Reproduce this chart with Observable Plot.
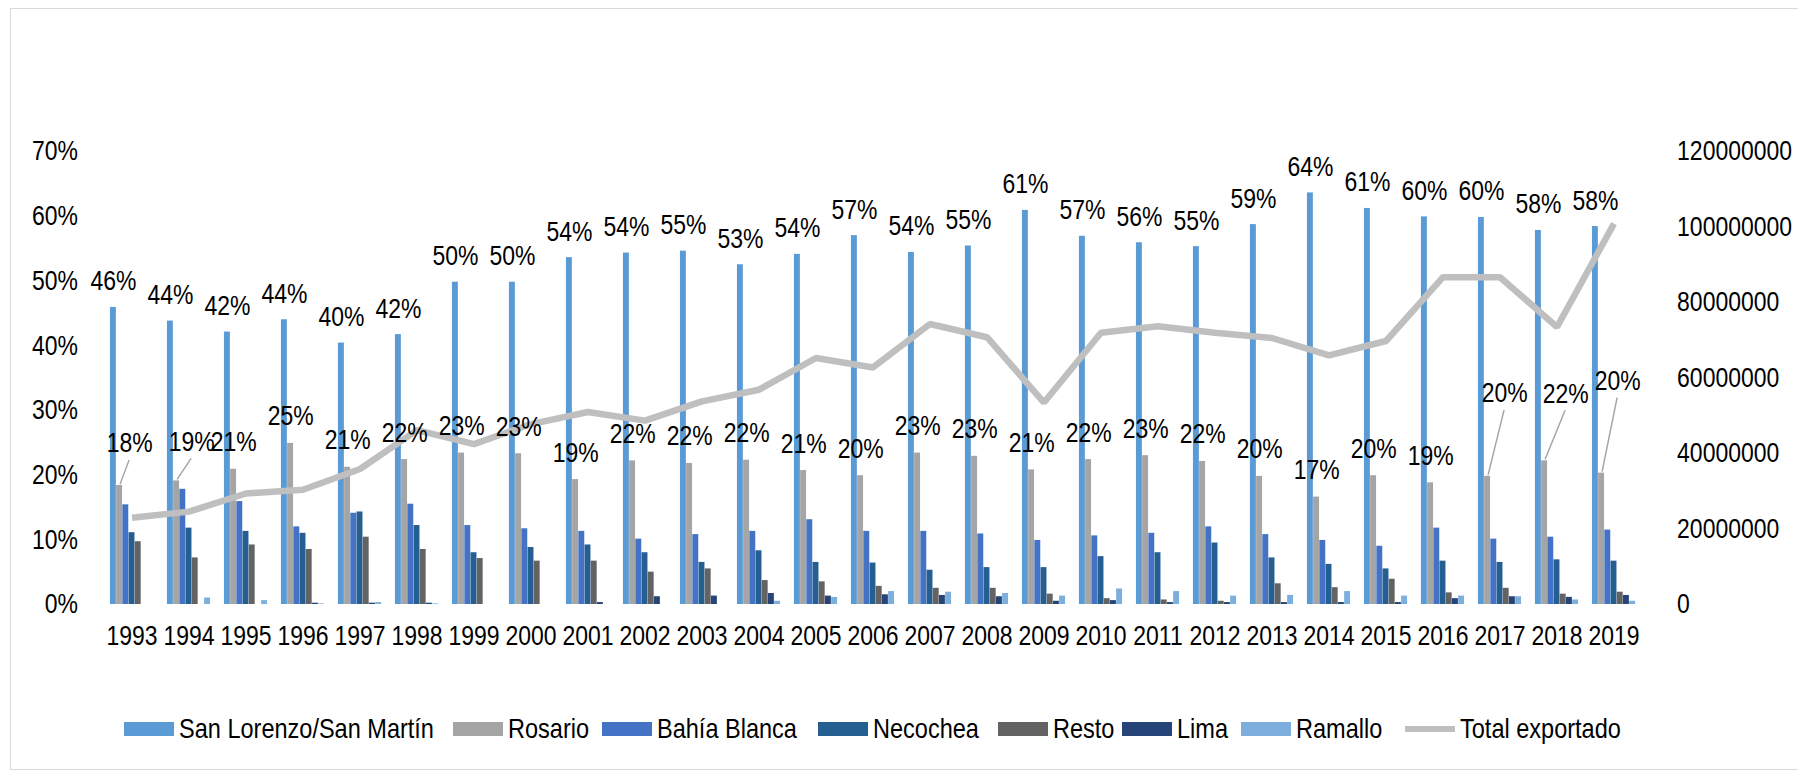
<!DOCTYPE html>
<html>
<head>
<meta charset="utf-8">
<script src="https://cdn.jsdelivr.net/npm/d3@7"></script>
<script src="https://cdn.jsdelivr.net/npm/@observablehq/plot@0.6"></script>
<style>
  html, body { margin: 0; padding: 0; background: #fff; }
  #wrap { position: relative; width: 1798px; height: 774px; overflow: hidden; background: #fff;
          font-family: "Liberation Sans", Arial, sans-serif; }
  #border { position: absolute; left: 10px; top: 8px; width: 1800px; height: 762px; border: 1.5px solid #d9d9d9; box-sizing: border-box; }
  #chart { position: absolute; left: 0; top: 0; }
  #legend { position: absolute; left: 0; top: 712px; width: 1798px; height: 34px; font-size: 28px; color: #000; }
  .sw { position: absolute; top: 10px; width: 50px; height: 14px; }
  .ln { position: absolute; top: 14px; width: 50px; height: 6px; }
  .lt { position: absolute; top: 0; line-height: 34px; white-space: nowrap; transform: scaleX(0.84); transform-origin: left center; }
</style>
</head>
<body>
<div id="wrap">
  <div id="border"></div>
  <div id="chart"></div>
  <div id="legend"></div>
</div>
<script>
// ---------- data ----------
const years = [1993,1994,1995,1996,1997,1998,1999,2000,2001,2002,2003,2004,2005,2006,2007,2008,2009,2010,2011,2012,2013,2014,2015,2016,2017,2018,2019];
const seriesNames = ["San Lorenzo/San Martín","Rosario","Bahía Blanca","Necochea","Resto","Lima","Ramallo"];
const seriesColors = ["#5B9BD5","#A5A5A5","#4472C4","#255E91","#636363","#264478","#7CAFDD"];
const lineName = "Total exportado";
const lineColor = "#BFBFBF";

// shares (%)
const sanLorenzo = [45.9,43.8,42.1,44.0,40.4,41.7,49.8,49.8,53.6,54.3,54.6,52.5,54.1,57.0,54.4,55.4,60.9,56.9,55.9,55.3,58.7,63.6,61.2,59.9,59.8,57.8,58.4];
const rosario    = [18.4,19.1,20.9,24.9,21.2,22.4,23.4,23.3,19.3,22.2,21.8,22.3,20.7,19.9,23.4,22.9,20.8,22.4,23.0,22.1,19.8,16.6,19.9,18.8,19.8,22.2,20.3];
const bahiaBlanca= [15.4,17.8,15.9,12.0,14.1,15.5,12.2,11.7,11.3,10.1,10.8,11.3,13.1,11.3,11.3,10.9,9.9,10.6,11.0,12.0,10.8,9.9,9.0,11.8,10.1,10.4,11.5];
const necochea   = [11.1,11.8,11.3,11.0,14.3,12.2,8.0,8.8,9.2,8.0,6.5,8.3,6.5,6.4,5.3,5.7,5.7,7.4,8.0,9.5,7.2,6.2,5.5,6.7,6.5,6.9,6.7];
const resto      = [9.7,7.2,9.2,8.5,10.4,8.5,7.1,6.7,6.7,5.0,5.5,3.7,3.5,2.8,2.5,2.5,1.6,0.9,0.7,0.5,3.2,2.6,3.9,1.8,2.5,1.6,1.9];
const lima       = [0,0,0,0.2,0.2,0.2,0,0,0.3,1.2,1.3,1.7,1.3,1.5,1.4,1.2,0.5,0.6,0.3,0.3,0.3,0.3,0.3,0.9,1.2,1.1,1.4];
const ramallo    = [0,1.0,0.6,0.1,0.3,0.1,0,0,0,0,0,0.5,1.1,2.0,1.9,1.7,1.3,2.4,2.0,1.3,1.4,2.0,1.3,1.3,1.2,0.7,0.5];
// total exported (tonnes)
const totalExportado = [23000000,24600000,29400000,30400000,35900000,46200000,42500000,47800000,51000000,48700000,53800000,56900000,65300000,62800000,74300000,70800000,53500000,72000000,73700000,72000000,70600000,66000000,69800000,86700000,86700000,73500000,100900000];

const pctTicks = [0,10,20,30,40,50,60,70];
const totalTicks = [0,20000000,40000000,60000000,80000000,100000000,120000000];

// ---------- layout ----------
const W = 1798, H = 690;
const mL = 99.4, mR = 152.4, mT = 151, mB = H - 604;
const FONT = '"Liberation Sans", Arial, sans-serif';
const FS = 28;
const SQUEEZE = 0.82;
const step = (W - mL - mR) / years.length;
const barW = 6.2;
const inset = (step - barW) / 2;
const PCT_MAX = 70, TOT_MAX = 120000000;

const seriesValues = [sanLorenzo, rosario, bahiaBlanca, necochea, resto, lima, ramallo];
const bars = seriesNames.map((name, k) =>
  Plot.barY(years.map((yr, i) => ({year: String(yr), v: seriesValues[k][i]})), {
    x: "year", y: "v", fill: seriesColors[k],
    insetLeft: inset, insetRight: inset, dx: (k - 3) * barW
  })
);

const totalData = years.map((yr, i) => ({year: String(yr), t: totalExportado[i] / TOT_MAX * PCT_MAX}));

const fmt = v => Math.round(v) + "%";
const slData = years.map((yr, i) => ({year: String(yr), v: sanLorenzo[i]}));
const rosData = years.map((yr, i) => ({year: String(yr), v: rosario[i]}));

// label shifts (px) for Rosario labels moved by hand in the original
const rosShift = {1993: [10, -42], 1994: [15, -39], 2017: [17, -83], 2018: [21, -67], 2019: [16, -92]};
const rosDefault = rosData.filter(d => !rosShift[d.year]);
const rosMoved = rosData.filter(d => rosShift[d.year]);

const textOpts = {fontSize: FS, fontFamily: FONT, fill: "#000", lineAnchor: "middle", textAnchor: "middle"};

const leaderMark = (index, scales) => {
  const {x, y} = scales;
  const bw = x.bandwidth ? x.bandwidth() : 0;
  const g = d3.create("svg:g").attr("stroke", "#A6A6A6").attr("stroke-width", 1.5);
  for (const d of rosMoved) {
    const [sx, sy] = rosShift[d.year];
    const bx = x(d.year) + bw / 2 + (1 - 3) * barW;
    const by = y(d.v);
    g.append("line")
      .attr("x1", bx + 1).attr("y1", by - 1)
      .attr("x2", bx + sx).attr("y2", by + sy + 17);
  }
  return g.node();
};

const plot = Plot.plot({
  width: W, height: H,
  marginLeft: mL, marginRight: mR, marginTop: mT, marginBottom: mB,
  style: {fontFamily: FONT, fontSize: FS + "px", color: "#000", background: "transparent"},
  x: {type: "band", domain: years.map(String), padding: 0, label: null},
  y: {domain: [0, PCT_MAX], label: null},
  marks: [
    ...bars,
    Plot.line(totalData, {x: "year", y: "t", stroke: lineColor, strokeWidth: 6.5, strokeLinejoin: "miter", strokeLinecap: "butt"}),
    leaderMark,
    Plot.text(slData, {...textOpts, x: "year", y: "v", text: d => fmt(d.v), dx: (0 - 3) * barW, dy: -26}),
    Plot.text(rosDefault, {...textOpts, x: "year", y: "v", text: d => fmt(d.v), dx: (1 - 3) * barW, dy: -27}),
    ...rosMoved.map(d => Plot.text([d], {...textOpts, x: "year", y: "v", text: d => fmt(d.v),
        dx: (1 - 3) * barW + rosShift[d.year][0], dy: rosShift[d.year][1]})),
    Plot.axisY(pctTicks, {anchor: "left", tickSize: 0, tickPadding: 22, tickFormat: d => d + "%", fontSize: FS, fontFamily: FONT, label: null}),
    Plot.axisY(totalTicks.map(t => t / TOT_MAX * PCT_MAX), {anchor: "right", tickSize: 0, tickPadding: 31, textAnchor: "start",
       tickFormat: (d, i) => String(totalTicks[i]), fontSize: FS, fontFamily: FONT, label: null}),
    Plot.axisX({anchor: "bottom", tickSize: 0, tickPadding: 21, fontSize: FS, fontFamily: FONT, label: null})
  ]
});

// condense all texts horizontally (the original uses a narrow face)
plot.querySelectorAll("text").forEach(t => {
  const tr = t.getAttribute("transform");
  if (tr !== null) {
    t.setAttribute("transform", tr + ` scale(${SQUEEZE},1)`);
  } else {
    const x = +(t.getAttribute("x") || 0), y = +(t.getAttribute("y") || 0);
    t.removeAttribute("x"); t.removeAttribute("y");
    t.setAttribute("transform", `translate(${x},${y}) scale(${SQUEEZE},1)`);
  }
});
document.getElementById("chart").appendChild(plot);

// ---------- legend ----------
const legend = document.getElementById("legend");
const legendLeft = [124, 453, 602, 818, 998, 1122, 1241, 1405];
const legendNames = [...seriesNames, lineName];
const legendColors = [...seriesColors, lineColor];
legendNames.forEach((name, k) => {
  const key = document.createElement("div");
  key.className = k < seriesNames.length ? "sw" : "ln";
  key.style.left = legendLeft[k] + "px";
  key.style.background = legendColors[k];
  const lab = document.createElement("div");
  lab.className = "lt";
  lab.style.left = (legendLeft[k] + 55) + "px";
  lab.textContent = name;
  legend.appendChild(key);
  legend.appendChild(lab);
});
</script>
</body>
</html>
